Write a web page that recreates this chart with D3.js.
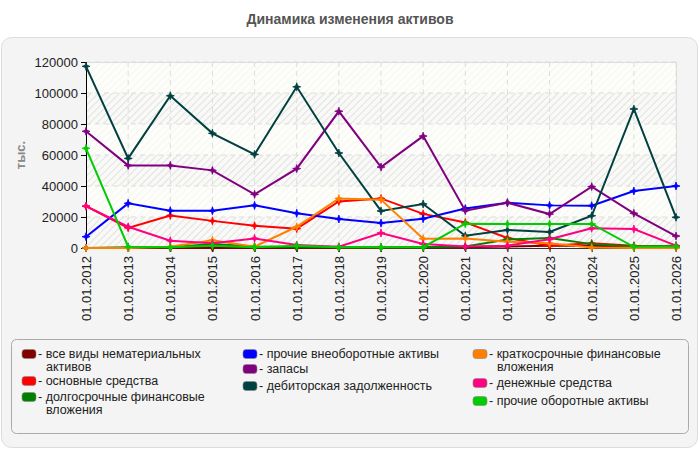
<!DOCTYPE html>
<html>
<head>
<meta charset="utf-8">
<script src="https://cdn.jsdelivr.net/npm/d3@7"></script>
<style>
  body { margin: 0; background: #fff; }
  svg { font-family: "Liberation Sans", Arial, sans-serif; }
</style>
</head>
<body>
<svg id="chart" width="700" height="450"></svg>
<script>
// categories and series
const years = ["01.01.2012","01.01.2013","01.01.2014","01.01.2015","01.01.2016","01.01.2017","01.01.2018",
  "01.01.2019","01.01.2020","01.01.2021","01.01.2022","01.01.2023","01.01.2024","01.01.2025","01.01.2026"];

const intangibles  = [0, 0, 0, 0, 0, 0, 0, 0, 300, 500, 1000, 1500, 1500, 1000, 500];
const fixedAssets  = [27000, 13000, 21000, 17500, 14400, 12500, 30000, 32000, 22000, 16500, 6500, 1500, 3000, 1500, 1000];
const longInvest   = [0, 500, 500, 2500, 1000, 500, 500, 500, 500, 1000, 5500, 6500, 2500, 1000, 1500];
const otherNonCur  = [7300, 28800, 24100, 24000, 27500, 22400, 18700, 16100, 18900, 25500, 29200, 27500, 27300, 36800, 40000];
const inventory    = [75300, 53300, 53300, 50100, 34600, 51200, 88200, 52200, 72200, 24100, 29200, 21900, 39600, 22400, 7700];
const receivables  = [117200, 57800, 98200, 74000, 60400, 104000, 61300, 23900, 28400, 7900, 11600, 10300, 20800, 89700, 19800];
const shortInvest  = [0, 0, 800, 5000, 800, 13700, 32000, 31200, 6000, 6200, 4100, 3000, 300, 0, 0];
const cash         = [27000, 13700, 4700, 3000, 6200, 1900, 800, 9700, 2600, 1000, 1500, 5600, 12700, 12200, 1500];
const otherCurrent = [64300, 800, 500, 1500, 500, 1500, 500, 500, 500, 15700, 15500, 15500, 15500, 800, 1000];

const yTicks = [0, 20000, 40000, 60000, 80000, 100000, 120000];

const series = [
  { name: ["все виды нематериальных", "активов"], values: intangibles,  color: "#800000" },
  { name: ["основные средства"],                  values: fixedAssets,  color: "#ff0000" },
  { name: ["долгосрочные финансовые", "вложения"], values: longInvest,  color: "#008000" },
  { name: ["прочие внеоборотные активы"],         values: otherNonCur,  color: "#0000ff" },
  { name: ["запасы"],                             values: inventory,    color: "#800080" },
  { name: ["дебиторская задолженность"],          values: receivables,  color: "#004040" },
  { name: ["краткосрочные финансовые", "вложения"], values: shortInvest, color: "#ff8000" },
  { name: ["денежные средства"],                  values: cash,         color: "#ff0080" },
  { name: ["прочие оборотные активы"],            values: otherCurrent, color: "#00cc00" }
];

const svg = d3.select("#chart");
const plot = { left: 86, right: 676, top: 62, bottom: 248 };

// title + outer panel
svg.append("text")
  .attr("x", 350).attr("y", 24)
  .attr("text-anchor", "middle")
  .attr("font-size", 14).attr("font-weight", "bold")
  .attr("fill", "#555")
  .text("Динамика изменения активов");

svg.append("rect")
  .attr("x", 1.5).attr("y", 37.5).attr("width", 696).attr("height", 410)
  .attr("rx", 10)
  .attr("fill", "#f4f4f4").attr("stroke", "#dcdcdc");

// hatch patterns for the plot background (strong / faint)
const defs = svg.append("defs");
function hatch(id, bg, stroke) {
  const pat = defs.append("pattern")
    .attr("id", id).attr("patternUnits", "userSpaceOnUse")
    .attr("width", 5).attr("height", 5)
    .attr("patternTransform", "rotate(45)");
  pat.append("rect").attr("width", 5).attr("height", 5).attr("fill", bg);
  pat.append("line").attr("x1", 0.5).attr("y1", 0).attr("x2", 0.5).attr("y2", 5)
    .attr("stroke", stroke).attr("stroke-width", 1);
}
hatch("hatchA", "#f9f9f7", "#e2e2e2");
hatch("hatchB", "#fdfdf9", "#f5f5f1");

const x = d3.scalePoint().domain(years).range([plot.left, plot.right]);
const y = d3.scaleLinear().domain([0, 120000]).range([plot.bottom, plot.top]);

// alternating bands, top band is the light one
const g = svg.append("g");
g.selectAll("rect.band")
  .data(d3.pairs(yTicks))
  .join("rect")
  .attr("class", "band")
  .attr("x", plot.left).attr("width", plot.right - plot.left)
  .attr("y", d => y(d[1])).attr("height", d => y(d[0]) - y(d[1]))
  .attr("fill", (d, i) => i % 2 ? "url(#hatchB)" : "url(#hatchA)");

// grid
g.selectAll("line.hgrid")
  .data(yTicks.slice(1))
  .join("line")
  .attr("x1", plot.left).attr("x2", plot.right)
  .attr("y1", d => y(d)).attr("y2", d => y(d))
  .attr("stroke", "#dddddd").attr("stroke-dasharray", "5,4");
g.selectAll("line.vgrid")
  .data(years.slice(1))
  .join("line")
  .attr("x1", d => x(d)).attr("x2", d => x(d))
  .attr("y1", plot.top).attr("y2", plot.bottom)
  .attr("stroke", "#dddddd").attr("stroke-dasharray", "5,4");
g.append("path")
  .attr("d", `M${plot.left},${plot.top + 0.5}H${plot.right + 0.5}V${plot.bottom}`)
  .attr("fill", "none").attr("stroke", "#dddddd");

// axes
const yAxis = svg.append("g")
  .attr("transform", `translate(${plot.left},0)`)
  .call(d3.axisLeft(y).tickValues(yTicks).tickSize(5).tickFormat(d3.format("d")));
yAxis.selectAll("text").attr("font-size", 13).attr("fill", "#222")
  .attr("font-family", "Liberation Sans, Arial, sans-serif");

const xAxis = svg.append("g")
  .attr("transform", `translate(0,${plot.bottom})`)
  .call(d3.axisBottom(x).tickSize(4));
xAxis.select(".domain").attr("stroke", "#333");
xAxis.selectAll("text")
  .attr("font-size", 13).attr("fill", "#222")
  .attr("font-family", "Liberation Sans, Arial, sans-serif")
  .attr("transform", "rotate(-90)")
  .attr("text-anchor", "end")
  .attr("x", -8).attr("y", 0).attr("dy", "0.35em");

svg.append("text")
  .attr("transform", "translate(25,155) rotate(-90)")
  .attr("text-anchor", "middle")
  .attr("font-size", 13).attr("font-weight", "bold").attr("fill", "#888")
  .text("тыс.");

// lines and markers
const line = d3.line().x((d, i) => x(years[i])).y(d => y(d));
const star = "M0,-4L1,-1L4,0L1,1L0,4L-1,1L-4,0L-1,-1Z";

const lines = svg.append("g");
series.forEach(s => {
  const sg = lines.append("g");
  sg.append("path")
    .attr("d", line(s.values))
    .attr("fill", "none").attr("stroke", s.color).attr("stroke-width", 2);
  sg.selectAll("path.mk")
    .data(s.values)
    .join("path")
    .attr("class", "mk")
    .attr("d", star)
    .attr("transform", (d, i) => `translate(${x(years[i])},${y(d)})`)
    .attr("fill", s.color).attr("stroke", s.color).attr("stroke-width", 0.8);
});

// legend
svg.append("rect")
  .attr("x", 11.5).attr("y", 339.5).attr("width", 677).attr("height", 94)
  .attr("rx", 5)
  .attr("fill", "#f4f4f4").attr("stroke", "#aaaaaa");

const legendPos = [
  { x: 22,  y: 354 }, { x: 22,  y: 381 }, { x: 22,  y: 397 },
  { x: 243, y: 354 }, { x: 243, y: 369 }, { x: 243, y: 386 },
  { x: 473, y: 354 }, { x: 473, y: 383 }, { x: 473, y: 401 }
];

const legend = svg.append("g");
series.forEach((s, i) => {
  const p = legendPos[i];
  const lg = legend.append("g").attr("transform", `translate(${p.x},${p.y})`);
  lg.append("rect")
    .attr("x", 0).attr("y", -4.5).attr("width", 14).attr("height", 9)
    .attr("rx", 3)
    .attr("fill", s.color).attr("stroke", "#888").attr("stroke-width", 0.6);
  const t = lg.append("text")
    .attr("font-size", 12.5).attr("fill", "#222");
  s.name.forEach((n, j) => {
    t.append("tspan")
      .attr("x", j === 0 ? 16 : 24)
      .attr("y", j * 12.5)
      .attr("dy", "0.35em")
      .text(j === 0 ? "- " + n : n);
  });
});
</script>
</body>
</html>
